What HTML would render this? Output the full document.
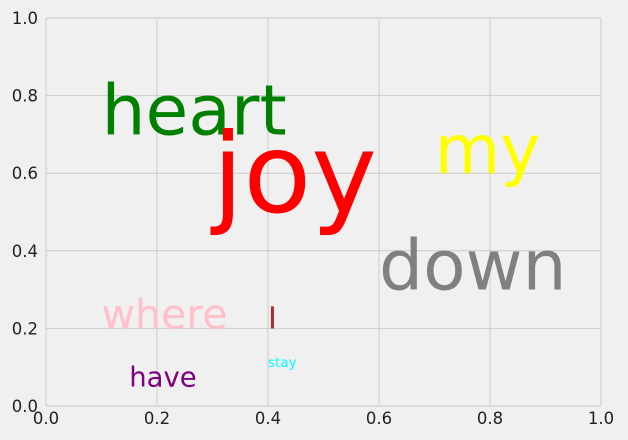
<!DOCTYPE html>
<html><head><meta charset="utf-8">
<style>
html,body{margin:0;padding:0;background:#f0f0f0;}
svg{display:block;font-family:"DejaVu Sans","Liberation Sans",sans-serif;}
</style></head>
<body>
<svg id="chart" width="628" height="440" viewBox="0 0 628 440"></svg>
<script>
const words = ["heart","joy","my","down","where","I","stay","have"];
const xVals = [0.1,0.3,0.7,0.6,0.1,0.4,0.4,0.15];
const yVals = [0.7,0.5,0.6,0.3,0.2,0.2,0.1,0.05];
const sizes = [69.5,111,67.5,69.5,41,30,13.5,27.5];
const colors = ["green","red","yellow","gray","pink","brown","cyan","purple"];
const xTicks = [0,0.2,0.4,0.6,0.8,1.0];
const yTicks = [0,0.2,0.4,0.6,0.8,1.0];
const xTickLabels = ["0.0","0.2","0.4","0.6","0.8","1.0"];
const yTickLabels = ["0.0","0.2","0.4","0.6","0.8","1.0"];

const X0=46, X1=601, Y0=406, Y1=18;
function sx(v){return X0+(X1-X0)*v;}
function sy(v){return Y0-(Y0-Y1)*v;}
const svg=document.getElementById('chart');
const NS="http://www.w3.org/2000/svg";
function mk(tag,attrs){const e=document.createElementNS(NS,tag);for(const k in attrs)e.setAttribute(k,attrs[k]);svg.appendChild(e);return e;}

xTicks.forEach((t,i)=>{
  const g=mk('line',{x1:sx(t),x2:sx(t),y1:Y1,y2:Y0,stroke:'#cbcbcb','stroke-width':1});
  
  
  const l=mk('text',{x:sx(t),y:Y0+18,'text-anchor':'middle','font-size':16.5,fill:'#222'});
  l.textContent=xTickLabels[i];
  
  
});
yTicks.forEach((t,i)=>{
  const g=mk('line',{x1:X0,x2:X1,y1:sy(t),y2:sy(t),stroke:'#cbcbcb','stroke-width':1});
  
  
  const l=mk('text',{x:X0-8,y:sy(t)+6,'text-anchor':'end','font-size':16.5,fill:'#222'});
  l.textContent=yTickLabels[i];
  
  
});
words.forEach((w,i)=>{
  const t=mk('text',{x:sx(xVals[i]),y:sy(yVals[i]),'font-size':sizes[i],fill:colors[i]});
  t.textContent=w;
  
  
});
</script>
</body></html>
